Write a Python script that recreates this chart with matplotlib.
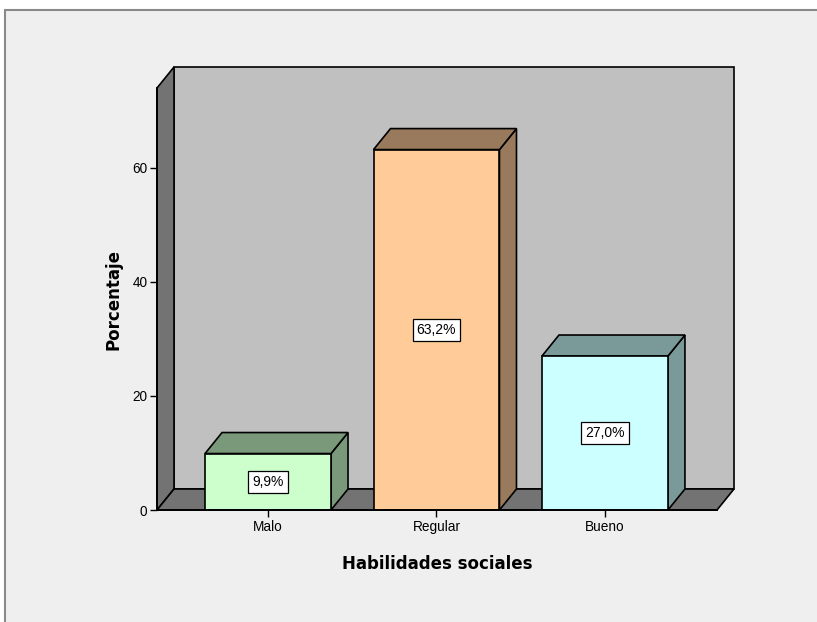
import numpy as np
import matplotlib
matplotlib.use("Agg")
import matplotlib.pyplot as plt
from matplotlib.patches import Polygon, Rectangle

categorias = ["Malo", "Regular", "Bueno"]
porcentajes = [9.9, 63.2, 27.0]
etiquetas = ["9,9%", "63,2%", "27,0%"]
colores = ["#ccffcc", "#ffcc99", "#ccffff"]
yticks = [0, 20, 40, 60]


def _sombra(hexc, f=0.6):
    c = np.array(matplotlib.colors.to_rgb(hexc)) * f
    return tuple(c)


W, H = 817, 622
fig = plt.figure(figsize=(W / 100, H / 100), dpi=100)
fig.patch.set_facecolor("white")
# marco gris estilo visor
fig.patches.append(Rectangle((5 / W, -0.01), 1.0, 1 - 10 / H + 0.01, transform=fig.transFigure,
                             facecolor="#efefef", edgecolor="#8a8a8a", lw=1.5, zorder=-10))

ax = fig.add_axes([157 / W, 112 / H, 560 / W, 422 / H])
ax.set_facecolor("none")
x0, x1 = -0.659, 2.665
ytop = 74.0
ax.set_xlim(x0, x1); ax.set_ylim(0, ytop)
dx = 17 / 560 * (x1 - x0)
dy = 21 / 422 * ytop
wall = "#c0c0c0"; dark = _sombra(wall)
kw = dict(edgecolor="black", lw=1.2, clip_on=False, joinstyle="miter")

# paredes y piso
ax.add_patch(Polygon([(x0 + dx, dy), (x1 + dx, dy), (x1 + dx, ytop + dy), (x0 + dx, ytop + dy)],
                     facecolor=wall, zorder=1, **kw))
ax.add_patch(Polygon([(x0, 0), (x0 + dx, dy), (x0 + dx, ytop + dy), (x0, ytop)],
                     facecolor=dark, zorder=1, **kw))
ax.add_patch(Polygon([(x0, 0), (x1, 0), (x1 + dx, dy), (x0 + dx, dy)],
                     facecolor=dark, zorder=1, **kw))

w = 126 / 168.5
xs = np.arange(len(categorias))
for xi, v, col, lab in zip(xs, porcentajes, colores, etiquetas):
    l, r = xi - w / 2, xi + w / 2
    sh = _sombra(col)
    ax.add_patch(Polygon([(r, 0), (r + dx, dy), (r + dx, v + dy), (r, v)], facecolor=sh, zorder=2, **kw))
    ax.add_patch(Polygon([(l, v), (r, v), (r + dx, v + dy), (l + dx, v + dy)], facecolor=sh, zorder=2, **kw))
    ax.add_patch(Rectangle((l, 0), w, v, facecolor=col, zorder=3, **kw))
    ax.text(xi, v / 2, lab, ha="center", va="center", fontsize=10, family="Liberation Sans", zorder=4,
            bbox=dict(boxstyle="square,pad=0.3", facecolor="white", edgecolor="black", lw=0.9))

for s in ("top", "right"):
    ax.spines[s].set_visible(False)
for s in ("left", "bottom"):
    ax.spines[s].set_linewidth(1.4)
    ax.spines[s].set_zorder(5)
ax.set_xticks(xs)
ax.set_xticklabels(categorias)
ax.set_yticks(yticks)
ax.tick_params(axis="both", length=5, width=1, labelsize=9.8, pad=2)
for t in ax.get_xticklabels() + ax.get_yticklabels():
    t.set_family("Liberation Sans")
ax.set_xlabel("Habilidades sociales", fontsize=12, fontweight="bold", labelpad=15)
ax.set_ylabel("Porcentaje", fontsize=12, fontweight="bold", labelpad=7)

fig.savefig("out.png", dpi=100)
